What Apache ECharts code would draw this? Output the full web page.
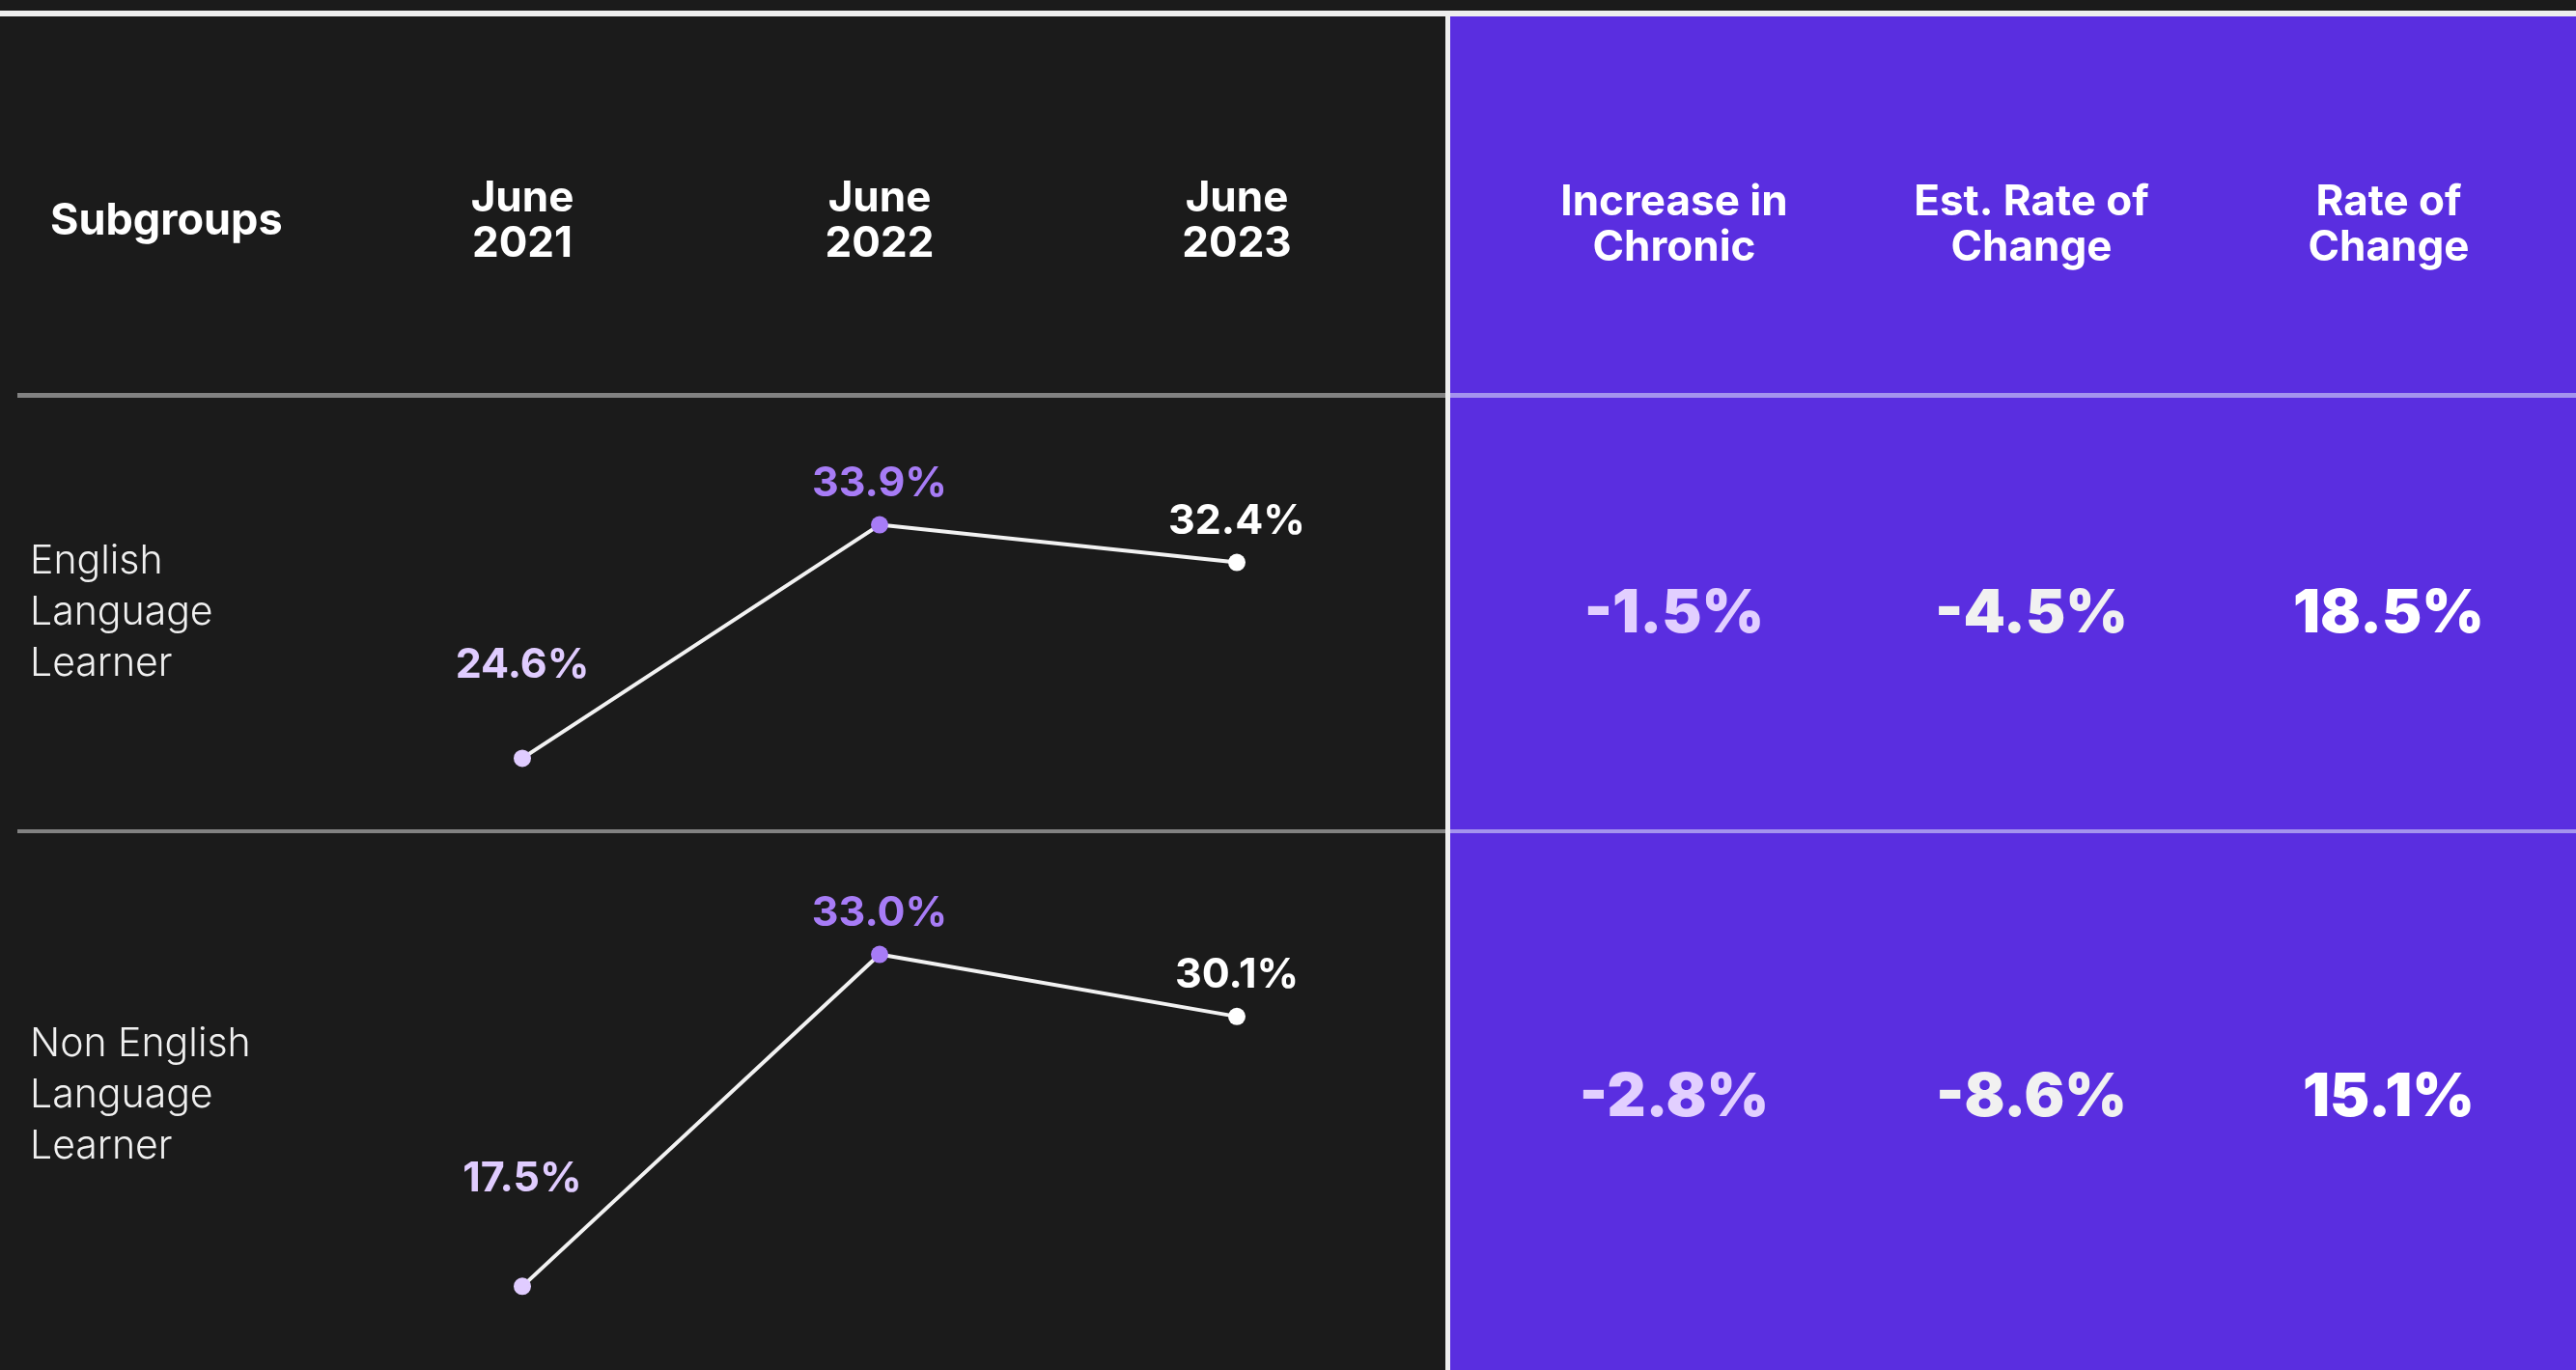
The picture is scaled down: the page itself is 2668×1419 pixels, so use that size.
<!DOCTYPE html>
<html>
<head>
<meta charset="utf-8">
<script src="https://cdn.jsdelivr.net/npm/echarts@6.0.0/dist/echarts.min.js"></script>
<style>
  html, body { margin: 0; padding: 0; background: #1b1b1b; }
  #main { width: 2668px; height: 1419px; }
</style>
</head>
<body>
<div id="main"></div>
<script>
// data
const subgroups = ['English\nLanguage\nLearner', 'Non English\nLanguage\nLearner'];
const years = ['June\n2021', 'June\n2022', 'June\n2023'];
const ellRates = [24.6, 33.9, 32.4];
const nonEllRates = [17.5, 33.0, 30.1];
const changeHeaders = ['Increase in\nChronic', 'Est. Rate of\nChange', 'Rate of\nChange'];
const increaseInChronic = [-1.5, -2.8];
const estRateOfChange = [-4.5, -8.6];
const rateOfChange = [18.5, 15.1];

const pointColors = ['#e0ccff', '#a77cf6', '#ffffff'];
const changeColors = ['#e2cfff', '#f1f1f1', '#ffffff'];
const fmt = v => v.toFixed(1) + '%';

let myChart = echarts.init(document.getElementById('main'));

function sparkSeries(data, idx, firstDist, dist) {
  return {
    type: 'line',
    xAxisIndex: idx,
    yAxisIndex: idx,
    symbol: 'circle',
    symbolSize: 18,
    lineStyle: { color: '#f2f2f2', width: 4 },
    label: {
      show: true,
      position: 'top',
      fontFamily: 'Inter',
      fontWeight: 700,
      fontSize: 43,
      formatter: p => fmt(p.value)
    },
    data: data.map((v, i) => ({
      value: v,
      itemStyle: { color: pointColors[i] },
      label: { color: pointColors[i], distance: i === 0 ? firstDist : dist }
    })),
    z: 5
  };
}

// table cells: [column, row, value]
const tableCells = [];
[increaseInChronic, estRateOfChange, rateOfChange].forEach((col, c) => {
  col.forEach((v, r) => tableCells.push({
    value: [c, r, v],
    label: { color: changeColors[c] }
  }));
});

const headerLabel = {
  color: '#ffffff',
  fontFamily: 'Inter',
  fontWeight: 700,
  fontSize: 44,
  lineHeight: 47,
  align: 'center'
};

myChart.setOption({
  animation: false,
  backgroundColor: '#1b1b1b',
  graphic: [
    { type: 'rect', shape: { x: 0, y: 11, width: 2668, height: 6 }, style: { fill: '#eeeeee' }, z: -10 },
    { type: 'rect', shape: { x: 1502, y: 17, width: 1166, height: 1402 }, style: { fill: '#5a2ee0' }, z: -10 },
    { type: 'rect', shape: { x: 18, y: 407, width: 1480, height: 5 }, style: { fill: '#828282' }, z: -9 },
    { type: 'rect', shape: { x: 1502, y: 407, width: 1166, height: 5 }, style: { fill: '#a593ee' }, z: -9 },
    { type: 'rect', shape: { x: 18, y: 859, width: 1480, height: 4 }, style: { fill: '#828282' }, z: -9 },
    { type: 'rect', shape: { x: 1502, y: 859, width: 1166, height: 4 }, style: { fill: '#a593ee' }, z: -9 },
    { type: 'rect', shape: { x: 1497, y: 17, width: 5, height: 1402 }, style: { fill: '#eeeeee' }, z: -8 },
    {
      type: 'text', x: 52, y: 229, z: 4,
      style: { text: 'Subgroups', fill: '#ffffff', font: 'bold 45px Inter', verticalAlign: 'middle' }
    },
    ...subgroups.map((s, i) => ({
      type: 'text', x: 31, y: [635, 1135][i], z: 4,
      style: { text: s, fill: '#f0f0f0', font: '300 41px Inter', lineHeight: 53, verticalAlign: 'middle' }
    }))
  ],
  grid: [
    { left: 541, width: 740, top: 437, height: 416 },
    { left: 541, width: 740, top: 922, height: 488 },
    { left: 1549, width: 1110, top: 386, height: 1002 }
  ],
  xAxis: [
    {
      gridIndex: 0, type: 'category', data: years, boundaryGap: false, position: 'top', z: 10,
      axisLine: { show: false }, axisTick: { show: false }, splitLine: { show: false },
      axisLabel: Object.assign({ margin: 161 }, headerLabel)
    },
    {
      gridIndex: 1, type: 'category', data: years, boundaryGap: false, show: false
    },
    {
      gridIndex: 2, type: 'category', data: changeHeaders, position: 'top', z: 10,
      axisLine: { show: false }, axisTick: { show: false }, splitLine: { show: false },
      axisLabel: Object.assign({ margin: 106 }, headerLabel)
    }
  ],
  yAxis: [
    { gridIndex: 0, type: 'value', min: 22, max: 38, show: false },
    { gridIndex: 1, type: 'value', min: 14, max: 36, show: false },
    { gridIndex: 2, type: 'category', data: subgroups, inverse: true, show: false }
  ],
  series: [
    sparkSeries(ellRates, 0, 66, 12),
    sparkSeries(nonEllRates, 1, 81, 12),
    {
      type: 'scatter',
      xAxisIndex: 2,
      yAxisIndex: 2,
      symbolSize: 1,
      itemStyle: { color: 'rgba(0,0,0,0)', opacity: 1 },
      label: {
        show: true,
        position: 'inside',
        fontFamily: 'Inter',
        fontWeight: 900,
        fontSize: 62,
        formatter: p => fmt(p.value[2])
      },
      data: tableCells,
      z: 5
    }
  ]
});
</script>
</body>
</html>
